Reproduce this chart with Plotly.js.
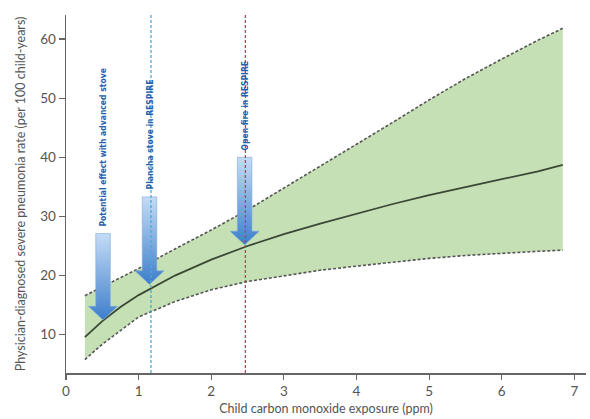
<!DOCTYPE html>
<html>
<head>
<meta charset="utf-8">
<script src="https://cdn.plot.ly/plotly-3.0.1.min.js"></script>
<style>html,body{margin:0;padding:0;background:#fff;}#chart{width:590px;height:419px;}</style>
</head>
<body>
<div id="chart"></div>
<script>
// Child carbon monoxide exposure (ppm)
const exposure = [0.26, 0.5, 0.75, 1.0, 1.5, 2.0, 2.5, 3.0, 3.5, 4.0, 4.5, 5.0, 5.5, 6.0, 6.5, 6.84];
// Estimated rate (per 100 child-years)
const rateMid   = [9.6, 12.3, 14.7, 16.7, 20.0, 22.7, 25.0, 27.0, 28.8, 30.5, 32.1, 33.6, 35.0, 36.3, 37.6, 38.7];
const rateUpper = [16.6, 18.1, 19.7, 21.2, 24.5, 27.7, 31.1, 34.8, 38.4, 42.2, 45.9, 49.7, 53.3, 56.6, 59.8, 61.8];
const rateLower = [5.8, 8.4, 10.7, 13.0, 15.6, 17.6, 19.0, 20.0, 20.9, 21.6, 22.3, 22.9, 23.4, 23.8, 24.1, 24.3];

// Reference exposures (vertical lines)
const refX = [1.17, 2.47];
const refColors = ['#45aed0', '#cc3a55'];

// Arrows: position, top of shaft, arrow tip, label
const arrowX   = [0.51, 1.15, 2.46];
const arrowTop = [27.1, 33.3, 40.0];
const arrowTip = [12.5, 18.5, 25.2];
const arrowLabels = ['Potential effect with advanced stove', 'Plancha stove in RESPIRE', 'Open fire in RESPIRE'];

const xTicks = [0, 1, 2, 3, 4, 5, 6, 7];
const yTicks = [10, 20, 30, 40, 50, 60];

const shaftHalf = 0.1, headHalf = 0.2, headLen = 2.3;

const traces = [
  {x: exposure, y: rateLower, type: 'scatter', mode: 'lines',
   line: {color: '#555', width: 1.6, dash: '3px,2px'}, hoverinfo: 'skip', showlegend: false},
  {x: exposure, y: rateUpper, type: 'scatter', mode: 'lines', fill: 'tonexty',
   fillcolor: '#c6e0b5', line: {color: '#555', width: 1.6, dash: '3px,2px'}, hoverinfo: 'skip', showlegend: false},
  {x: exposure, y: rateMid, type: 'scatter', mode: 'lines',
   line: {color: '#3a4836', width: 1.8}, hoverinfo: 'skip', showlegend: false}
];

arrowX.forEach((ax, i) => {
  const top = arrowTop[i], tip = arrowTip[i], sh = tip + headLen;
  traces.push({
    x: [ax - shaftHalf, ax + shaftHalf, ax + shaftHalf, ax + headHalf, ax, ax - headHalf, ax - shaftHalf, ax - shaftHalf],
    y: [top, top, sh, sh, tip, sh, sh, top],
    type: 'scatter', mode: 'lines', fill: 'toself',
    fillgradient: {type: 'vertical', colorscale: [[0, '#3d7ecb'], [1, '#c4dcf6']]},
    line: {color: '#7aa8dc', width: 0.6}, hoverinfo: 'skip', showlegend: false
  });
});

const shapes = refX.map((rx, i) => ({
  type: 'line', xref: 'x', yref: 'paper', x0: rx, x1: rx, y0: 0, y1: 1.005,
  line: {color: refColors[i], width: 1.3, dash: '3px,2px'}
}));

const annotations = arrowLabels.map((t, i) => ({
  x: arrowX[i], y: arrowTop[i], xref: 'x', yref: 'y', text: '<b>' + t + '</b>',
  showarrow: false, textangle: -90, xanchor: 'center', yanchor: 'bottom', yshift: 5,
  font: {family: 'Liberation Sans Narrow, DejaVu Sans Condensed, sans-serif', size: 8.5, color: '#2560ad'}
}));

const layout = {
  width: 590, height: 419,
  margin: {l: 66, r: 4, t: 15, b: 46},
  paper_bgcolor: '#fff', plot_bgcolor: '#fff',
  font: {family: 'Lato, Open Sans, sans-serif', size: 13.5, color: '#555'},
  xaxis: {
    range: [0, 7.16], tickvals: xTicks, ticktext: xTicks.map(String),
    showline: true, linecolor: '#666', linewidth: 1.5, ticks: 'outside', ticklen: 5, tickcolor: '#666', tickwidth: 1.2,
    showgrid: false, zeroline: false,
    title: {text: 'Child carbon monoxide exposure (ppm)', font: {size: 12.5, color: '#555'}, standoff: 6}
  },
  yaxis: {
    range: [3.53, 64.05], tickvals: yTicks, ticktext: yTicks.map(String),
    showline: true, linecolor: '#666', linewidth: 1.5, ticks: 'outside', ticklen: 6, tickcolor: '#666', tickwidth: 1.2,
    showgrid: false, zeroline: false,
    title: {text: 'Physician-diagnosed severe pneumonia rate (per 100 child-years)', font: {size: 12.5, color: '#555'}, standoff: 12}
  },
  shapes: shapes,
  annotations: annotations,
  showlegend: false
};

Plotly.newPlot('chart', traces, layout, {displayModeBar: false, staticPlot: true});
</script>
</body>
</html>
